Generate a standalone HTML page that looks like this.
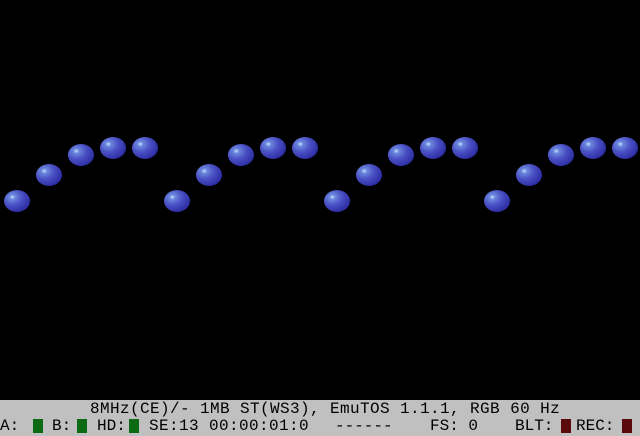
<!DOCTYPE html>
<html><head><meta charset="utf-8"><style>
body{margin:0;width:640px;height:436px;background:#000;overflow:hidden;position:relative;font-family:"Liberation Mono","DejaVu Sans Mono",monospace}
#screen{position:absolute;left:0;top:0;width:640px;height:400px;background:#000}
#status{position:absolute;left:0;top:400px;width:640px;height:36px;background:#c0c0c0;color:#000}
.t{position:absolute;font-size:16px;line-height:16px;white-space:pre;letter-spacing:0px}
.led{position:absolute;top:419px;width:10px;height:14px}
.g{background:#0b6a12}.r{background:#5a0a0a}
</style></head><body>
<div id="screen">
<svg width="640" height="400">
<defs>
<radialGradient id="bg" cx="0.32" cy="0.32" r="0.75">
<stop offset="0" stop-color="#c8e0ff"/><stop offset="0.15" stop-color="#6a86dc"/><stop offset="0.5" stop-color="#4a50c4"/><stop offset="1" stop-color="#2a2aa0"/>
</radialGradient>
</defs>
<g id="balls"></g>
</svg>
</div>
<div id="status"></div>
<div class="t" style="left:90px;top:401px;letter-spacing:0.4px">8MHz(CE)/- 1MB ST(WS3), EmuTOS 1.1.1, RGB 60 Hz</div>
<div class="t" style="left:0;top:418px">A:</div>
<div class="led g" style="left:33px"></div>
<div class="t" style="left:52px;top:418px">B:</div>
<div class="led g" style="left:77px"></div>
<div class="t" style="left:97px;top:418px">HD:</div>
<div class="led g" style="left:129px"></div>
<div class="t" style="left:149px;top:418px;letter-spacing:0.4px">SE:13 00:00:01:0</div>
<div class="t" style="left:335px;top:418px">------</div>
<div class="t" style="left:430px;top:418px">FS: 0</div>
<div class="t" style="left:515px;top:418px">BLT:</div>
<div class="led r" style="left:561px"></div>
<div class="t" style="left:576px;top:418px">REC:</div>
<div class="led r" style="left:622px"></div>
<script>
const ballX=[17,49,81,113,145,177,209,241,273,305,337,369,401,433,465,497,529,561,593,625];
const ballY=[201,175,155,148,148,201,175,155,148,148,201,175,155,148,148,201,175,155,148,148];
const g=document.getElementById('balls');
const ns='http://www.w3.org/2000/svg';
for(let i=0;i<ballX.length;i++){
 const e=document.createElementNS(ns,'ellipse');
 e.setAttribute('cx',ballX[i]);e.setAttribute('cy',ballY[i]);
 e.setAttribute('rx',13);e.setAttribute('ry',11);
 e.setAttribute('fill','url(#bg)');
 
 
 g.appendChild(e);
}
</script>
</body></html>
